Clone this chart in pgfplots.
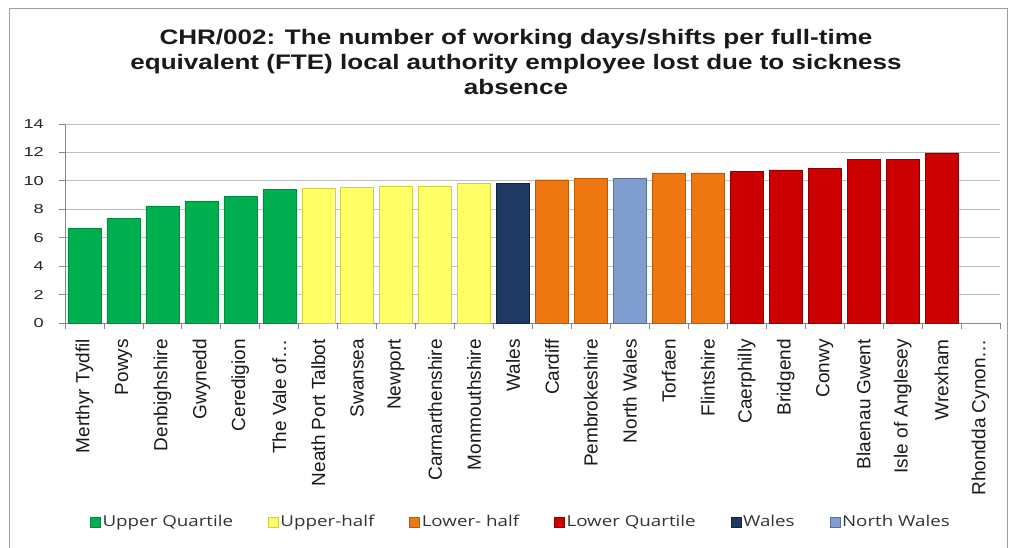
\documentclass[border=0pt]{standalone}
\usepackage{pgfplots}
\pgfplotsset{compat=1.18}
\usepackage{fontspec}
\setmainfont{Liberation Sans}
\newfontfamily\titlefont[FakeStretch=1.24]{Liberation Sans}
\newfontfamily\tickfont[FakeStretch=1.4]{Liberation Sans}
\newfontfamily\legfont[FakeStretch=1.25]{Open Sans}
\definecolor{cgreen}{HTML}{00B050}
\definecolor{cgreenD}{HTML}{008A3E}
\definecolor{cyellow}{HTML}{FFFF66}
\definecolor{cyellowD}{HTML}{CFCF40}
\definecolor{corange}{HTML}{EE7711}
\definecolor{corangeD}{HTML}{B85A0A}
\definecolor{cred}{HTML}{CC0000}
\definecolor{credD}{HTML}{8B0000}
\definecolor{cnavy}{HTML}{1F3A62}
\definecolor{cnavyD}{HTML}{12243E}
\definecolor{clblue}{HTML}{7F9DCF}
\definecolor{clblueD}{HTML}{5A7099}
\definecolor{gridc}{HTML}{BFBFBF}
\definecolor{axc}{HTML}{868686}
\begin{document}
\begin{tikzpicture}
\begin{axis}[
  name=ax,
  scale only axis, width=935pt, height=199pt,
  xmin=-0.5, xmax=23.5, ymin=0, ymax=14,
  ytick={0,2,...,14},
  xtick={0,...,23},
  xticklabels={Merthyr Tydfil,Powys,Denbighshire,Gwynedd,Ceredigion,The Vale of\ldots,Neath Port Talbot,Swansea,Newport,Carmarthenshire,Monmouthshire,Wales,Cardiff,Pembrokeshire,North Wales,Torfaen,Flintshire,Caerphilly,Bridgend,Conwy,Blaenau Gwent,Isle of Anglesey,Wrexham,Rhondda Cynon\ldots},
  minor xtick={-0.5,0.5,...,23.5},
  axis x line*=bottom, axis y line*=left,
  axis line style={axc, line width=0.9pt},
  tick align=outside,
  major tick length=6pt, minor tick length=6pt,
  major x tick style={draw=none},
  minor x tick style={draw=axc, line width=0.8pt},
  y tick style={draw=axc, line width=0.8pt},
  ymajorgrids, grid style={gridc, line width=0.9pt},
  /pgf/number format/assume math mode=true,
  yticklabel style={font=\tickfont\fontsize{13}{13}\selectfont, text=black!85, inner sep=0pt, anchor=east},
  yticklabel shift=15pt,
  xticklabel style={rotate=90, anchor=east, inner sep=0pt, font=\fontsize{19}{19}\selectfont, text=black!90},
  xticklabel shift=10pt,
  ybar, bar width=33pt, bar shift=0pt,
  legend style={at={(0.4877,-1.0)}, anchor=center, draw=none, fill=none,
    font=\legfont\fontsize{15}{15}\selectfont, text=black!80,
    legend columns=-1,
    nodes={inner sep=2pt},
    /tikz/every odd column/.append style={column sep=0pt},
    /tikz/every even column/.append style={column sep=33pt}},
  legend image code/.code={\fill[#1] (0pt,-5pt) rectangle (10pt,5pt);},
]
\addplot[fill=cgreen, draw=cgreenD] coordinates {(0,6.65) (1,7.35) (2,8.24) (3,8.59) (4,8.89) (5,9.40)};
\addlegendentry{Upper Quartile}
\addplot[fill=cyellow, draw=cyellowD] coordinates {(6,9.45) (7,9.52) (8,9.59) (9,9.64) (10,9.82)};
\addlegendentry{Upper-half}
\addplot[fill=corange, draw=corangeD] coordinates {(12,10.08) (13,10.20) (15,10.57) (16,10.57)};
\addlegendentry{Lower- half}
\addplot[fill=cred, draw=credD] coordinates {(17,10.66) (18,10.78) (19,10.90) (20,11.50) (21,11.50) (22,11.97)};
\addlegendentry{Lower Quartile}
\addplot[fill=cnavy, draw=cnavyD] coordinates {(11,9.85)};
\addlegendentry{Wales}
\addplot[fill=clblue, draw=clblueD] coordinates {(14,10.20)};
\addlegendentry{North Wales}
\end{axis}
\begin{scope}[shift={(ax.south west)}, x=1pt, y=1pt]
\useasboundingbox (-65,-224) rectangle (949,323);
\draw[axc!80, line width=1.5pt] (-55.5,-229) rectangle (942.5,314.5);
\node[align=center, font=\titlefont\bfseries\fontsize{21}{25}\selectfont, text=black!90] at (451,261)
  {CHR/002: The number of working days/shifts per full-time\\equivalent (FTE) local authority employee lost due to sickness\\absence};
\end{scope}
\end{tikzpicture}
\end{document}
